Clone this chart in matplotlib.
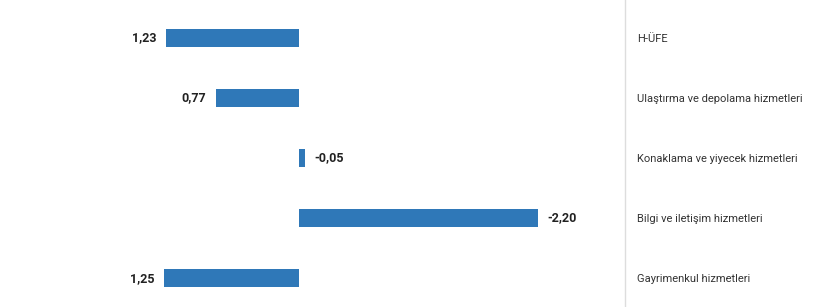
import matplotlib.pyplot as plt

# mirrored horizontal bar chart, values in percent points
categories = [
    "H-ÜFE",
    "Ulaştırma ve depolama hizmetleri",
    "Konaklama ve yiyecek hizmetleri",
    "Bilgi ve iletişim hizmetleri",
    "Gayrimenkul hizmetleri",
]
values = [1.23, 0.77, -0.05, -2.20, 1.25]
value_labels = ["1,23", "0,77", "-0,05", "-2,20", "1,25"]

bar_color = "#2f78b8"
plt.rcParams["font.family"] = ["Roboto", "DejaVu Sans"]

fig = plt.figure(figsize=(8.2, 3.07), dpi=100)
ax = fig.add_axes([0.0, 0.0, 0.762, 1.0])

ypos = list(range(len(categories)))
ax.barh(ypos, values, height=0.29, color=bar_color)

ax.set_xlim(2.76, -3.0)  # inverted: positive values grow to the left
ax.set_ylim(4.48, -0.63)

for y, v, lab in zip(ypos, values, value_labels):
    off = 0.09 if v >= 0 else -0.09
    ax.text(v + off, y, lab, ha="right" if v >= 0 else "left", va="center",
            fontsize=9, fontweight="bold", color="#222222")

ax.yaxis.tick_right()
ax.set_yticks(ypos)
ax.set_yticklabels(categories, fontsize=8, color="#333333")
ax.tick_params(axis="y", length=0, pad=9)
ax.set_xticks([])

for side in ["top", "bottom", "left"]:
    ax.spines[side].set_visible(False)
ax.spines["right"].set_color("#dddddd")
ax.spines["right"].set_linewidth(1)

fig.savefig("out.png", dpi=100, facecolor="white")
